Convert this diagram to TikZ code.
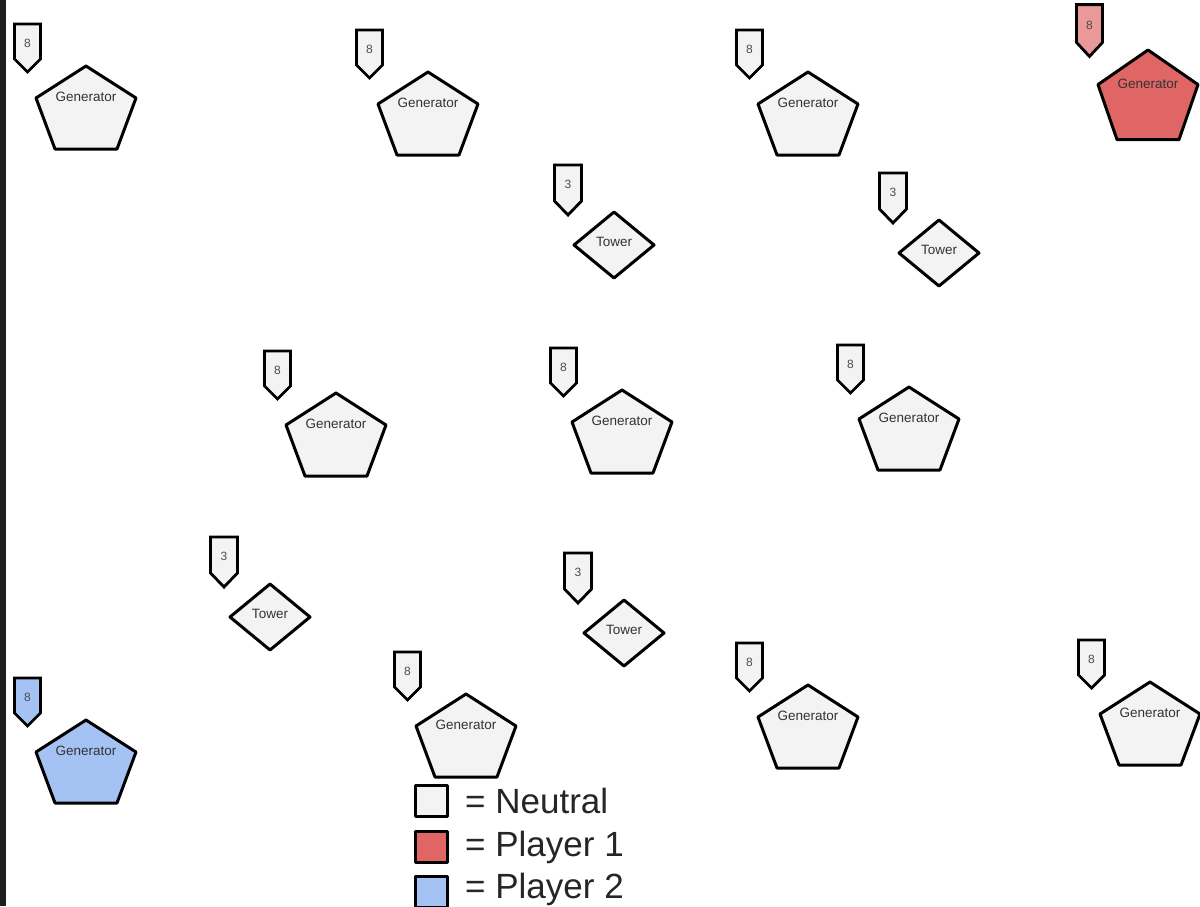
\documentclass[tikz,border=0pt]{standalone}
\usepackage{fontspec}
\setmainfont{Liberation Sans}
\definecolor{neutral}{HTML}{F3F3F3}
\definecolor{playerone}{HTML}{E06666}
\definecolor{playeronetag}{HTML}{EA9999}
\definecolor{playertwo}{HTML}{A4C2F4}
\definecolor{sidebar}{HTML}{1E1E1E}
\tikzset{
x=1pt, y=-1pt, % pixel units, y downwards
outline/.style={draw=black, line width=3pt, line join=round}, % border of every piece
tagline/.style={draw=black, line width=2.8pt, line join=miter},
genlabel/.style={font=\fontsize{13.5}{14}\selectfont, text=black!80, inner sep=0pt},
numlabel/.style={font=\fontsize{12}{12}\selectfont, text=black!70, inner sep=0pt},
legendbox/.style={outline, anchor=north west, minimum width=32pt, minimum height=31pt, inner sep=0pt},
legendtext/.style={font=\fontsize{35}{35}\selectfont, text=black!85, anchor=base west, inner sep=0pt},
pics/generator/.style 2 args={code={
\draw[outline, fill=#1] (0,0) -- (50,32) -- (31,83) -- (-31,83) -- (-50,32) -- cycle;
\node[genlabel] (-name) at (0,31) {Generator};
\draw[tagline, fill=#2] (-71.5,-42) -- ++(26,0) -- ++(0,35) -- ++(-13,13) -- ++(-13,-13) -- cycle;
\node[numlabel] (-count) at (-58.5,-23) {8};
}},
pics/tower/.style={code={
\draw[outline, fill=#1] (-40,0) -- (0,-33) -- (40,0) -- (0,33) -- cycle;
\node[genlabel] (-name) at (0,-3) {Tower};
\draw[tagline, fill=#1] (-59.5,-80) -- ++(27,0) -- ++(0,36) -- ++(-13.5,14) -- ++(-13.5,-14) -- cycle;
\node[numlabel] (-count) at (-46,-61) {3};
}},
}

\begin{document}
\begin{tikzpicture}
\useasboundingbox (0,0) rectangle (1200,906);
\fill[white] (0,0) rectangle (1200,906);
\fill[sidebar] (0,0) rectangle (6,906);

% generators
\pic (g1) at (86,66) {generator={neutral}{neutral}};
\pic (g2) at (428,72) {generator={neutral}{neutral}};
\pic (g3) at (808,72) {generator={neutral}{neutral}};
\pic[yscale=1.08] (g4) at (1148,50) {generator={playerone}{playeronetag}};
\pic (g5) at (336,393) {generator={neutral}{neutral}};
\pic (g6) at (622,390) {generator={neutral}{neutral}};
\pic (g7) at (909,387) {generator={neutral}{neutral}};
\pic (g8) at (86,720) {generator={playertwo}{playertwo}};
\pic (g9) at (466,694) {generator={neutral}{neutral}};
\pic (g10) at (808,685) {generator={neutral}{neutral}};
\pic (g11) at (1150,682) {generator={neutral}{neutral}};

% towers
\pic (t1) at (614,245) {tower=neutral};
\pic (t2) at (939,253) {tower=neutral};
\pic (t3) at (270,617) {tower=neutral};
\pic (t4) at (624,633) {tower=neutral};

% legend
\node[legendbox, fill=neutral] (keyneutral) at (414,784) {};
\node[legendbox, fill=playerone] (keyone) at (414,830) {};
\node[legendbox, fill=playertwo] (keytwo) at (414,875) {};
\node[legendtext] (textneutral) at (465,813) {= Neutral};
\node[legendtext] (textone) at (465,856) {= Player 1};
\node[legendtext] (texttwo) at (465,898) {= Player 2};
\end{tikzpicture}
\end{document}
